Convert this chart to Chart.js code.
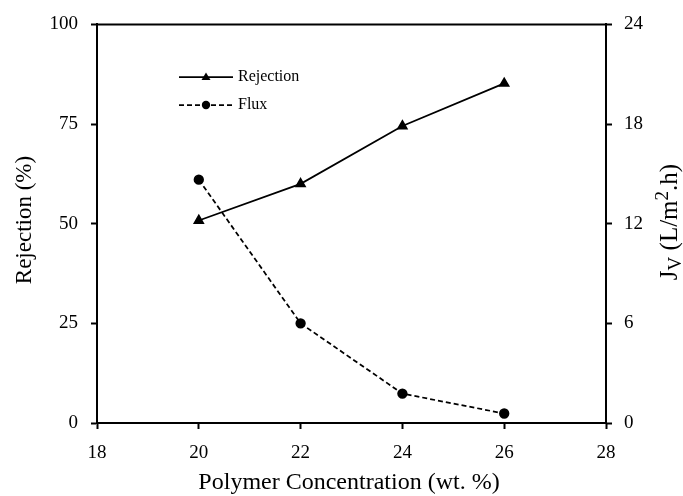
<!DOCTYPE html>
<html>
<head>
<meta charset="utf-8">
<script src="https://cdn.jsdelivr.net/npm/chart.js@4.4.1/dist/chart.umd.min.js"></script>
<style>
  html, body { margin: 0; padding: 0; background: #fff; }
  #wrap { width: 683px; height: 496px; }
</style>
</head>
<body>
<div id="wrap"><canvas id="c" width="683" height="496"></canvas></div>
<script>
// Polymer concentration (wt. %)
const concentration = [20, 22, 24, 26];
// Rejection (%) — left axis
const rejection = [50.8, 60, 74.5, 85.2];
// Flux Jv (L/m2.h) — right axis
const flux = [14.65, 6.0, 1.77, 0.57];

const xTicks = [18, 20, 22, 24, 26, 28];
const leftTicks = [0, 25, 50, 75, 100];
const rightTicks = [0, 6, 12, 18, 24];

const FONT = "'Liberation Serif', 'Times New Roman', serif";

const pts = (xs, ys) => xs.map((x, i) => ({ x: x, y: ys[i] }));

// Box on top, axis titles and the in-plot legend
const decor = {
  id: 'decor',
  afterDraw(chart) {
    const ctx = chart.ctx;
    const a = chart.chartArea;
    ctx.save();
    ctx.strokeStyle = '#000';
    ctx.lineWidth = 2;
    ctx.beginPath();
    ctx.moveTo(a.left - 1, a.top);
    ctx.lineTo(a.right + 1, a.top);
    ctx.stroke();

    ctx.fillStyle = '#000';
    // x title
    ctx.font = '24px ' + FONT;
    ctx.textAlign = 'center';
    ctx.textBaseline = 'middle';
    ctx.fillText('Polymer Concentration (wt. %)', 349, 483);

    // left title
    ctx.save();
    ctx.translate(25, 220);
    ctx.rotate(-Math.PI / 2);
    ctx.font = '23px ' + FONT;
    ctx.fillText('Rejection (%)', 0, 0);
    ctx.restore();

    // right title: J_V (L/m^2.h)
    ctx.save();
    ctx.translate(670, 222);
    ctx.rotate(-Math.PI / 2);
    const big = '25px ' + FONT, small = '19px ' + FONT;
    const parts = [
      { t: 'J', f: big, dy: 0 },
      { t: 'V', f: small, dy: 6 },
      { t: ' (L/m', f: big, dy: 0 },
      { t: '2', f: small, dy: -7 },
      { t: '.h)', f: big, dy: 0 }
    ];
    let total = 0;
    parts.forEach(p => { ctx.font = p.f; p.w = ctx.measureText(p.t).width; total += p.w; });
    let x = -total / 2;
    ctx.textAlign = 'left';
    parts.forEach(p => { ctx.font = p.f; ctx.fillText(p.t, x, p.dy); x += p.w; });
    ctx.restore();

    // legend
    const items = [
      { label: 'Rejection', y: 77, dash: [], style: 'triangle' },
      { label: 'Flux', y: 105, dash: [5, 3], style: 'circle' }
    ];
    items.forEach(it => {
      ctx.strokeStyle = '#000';
      ctx.lineWidth = 1.75;
      ctx.setLineDash(it.dash);
      ctx.beginPath();
      ctx.moveTo(179, it.y);
      ctx.lineTo(233, it.y);
      ctx.stroke();
      ctx.setLineDash([]);
      ctx.beginPath();
      if (it.style === 'triangle') {
        ctx.moveTo(206, it.y - 4.5);
        ctx.lineTo(210.5, it.y + 3);
        ctx.lineTo(201.5, it.y + 3);
        ctx.closePath();
      } else {
        ctx.arc(206, it.y, 4.2, 0, Math.PI * 2);
      }
      ctx.fill();
      ctx.font = '16px ' + FONT;
      ctx.textAlign = 'left';
      ctx.textBaseline = 'middle';
      ctx.fillText(it.label, 238, it.y);
    });
    ctx.restore();
  }
};

new Chart(document.getElementById('c'), {
  type: 'scatter',
  data: {
    datasets: [
      {
        label: 'Rejection',
        data: pts(concentration, rejection),
        yAxisID: 'y',
        showLine: true,
        borderColor: '#000',
        backgroundColor: '#000',
        borderWidth: 1.75,
        pointStyle: 'triangle',
        pointRadius: 5,
        pointHoverRadius: 5
      },
      {
        label: 'Flux',
        data: pts(concentration, flux),
        yAxisID: 'y1',
        showLine: true,
        borderColor: '#000',
        backgroundColor: '#000',
        borderWidth: 1.75,
        borderDash: [5, 3],
        pointStyle: 'circle',
        pointRadius: 4.3,
        pointHoverRadius: 4.3
      }
    ]
  },
  options: {
    responsive: false,
    animation: false,
    layout: { padding: { top: 23, left: 0, right: 0, bottom: 0 } },
    plugins: { legend: { display: false }, tooltip: { enabled: false } },
    scales: {
      x: {
        type: 'linear',
        min: 18, max: 28,
        afterBuildTicks: s => { s.ticks = xTicks.map(v => ({ value: v })); },
        afterFit: s => { s.height = 73; },
        grid: { drawOnChartArea: false, tickLength: 6, tickWidth: 2, color: '#000' },
        border: { display: true, color: '#000', width: 2 },
        ticks: { color: '#000', font: { family: FONT, size: 19 }, padding: 13, maxRotation: 0 }
      },
      y: {
        position: 'left',
        min: 0, max: 100,
        afterBuildTicks: s => { s.ticks = leftTicks.map(v => ({ value: v })); },
        afterFit: s => { s.width = 97; },
        grid: { drawOnChartArea: false, tickLength: 6, tickWidth: 2, color: '#000' },
        border: { display: true, color: '#000', width: 2 },
        ticks: { color: '#000', font: { family: FONT, size: 19 }, padding: 13 }
      },
      y1: {
        position: 'right',
        min: 0, max: 24,
        afterBuildTicks: s => { s.ticks = rightTicks.map(v => ({ value: v })); },
        afterFit: s => { s.width = 77; },
        grid: { drawOnChartArea: false, tickLength: 6, tickWidth: 2, color: '#000' },
        border: { display: true, color: '#000', width: 2 },
        ticks: { color: '#000', font: { family: FONT, size: 19 }, padding: 12 }
      }
    }
  },
  plugins: [decor]
});
</script>
</body>
</html>
